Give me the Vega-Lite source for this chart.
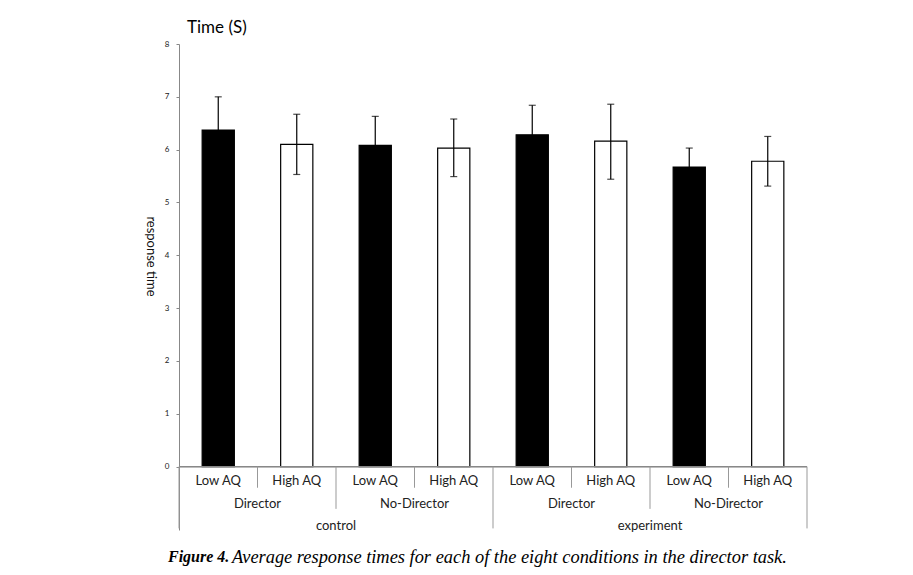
{
  "$schema": "https://vega.github.io/schema/vega-lite/v6.json",
  "background": "white",
  "padding": {"left": 143, "top": 19, "right": 5, "bottom": 5},
  "config": {"view": {"stroke": null}, "font": "Lato", "concat": {"spacing": 0}},
  "title": {"text": "Figure 4.", "orient": "bottom", "anchor": "start", "font": "Liberation Serif", "fontStyle": "italic", "fontWeight": "bold", "fontSize": 16, "color": "black", "offset": -16.8, "dx": 25},
  "vconcat": [
    {
      "title": {"text": "Average response times for each of the eight conditions in the director task.", "orient": "bottom", "anchor": "start", "font": "Liberation Serif", "fontStyle": "italic", "fontWeight": "normal", "fontSize": 18.4, "color": "black", "offset": 15, "dx": 89},
      "vconcat": [
        {
          "width": 628,
          "height": 486,
          "title": {"text": "Time (S)", "anchor": "start", "frame": "group", "dx": 8, "font": "Lato", "fontSize": 17, "fontWeight": "normal", "color": "black", "offset": 3},
          "data": {"values": [
            {"cond": "control|Director|Low AQ", "group": "control", "director": "Director", "aq": "Low AQ", "mean": 6.37, "lo": 5.74, "hi": 7.00},
            {"cond": "control|Director|High AQ", "group": "control", "director": "Director", "aq": "High AQ", "mean": 6.10, "lo": 5.53, "hi": 6.67},
            {"cond": "control|No-Director|Low AQ", "group": "control", "director": "No-Director", "aq": "Low AQ", "mean": 6.08, "lo": 5.53, "hi": 6.63},
            {"cond": "control|No-Director|High AQ", "group": "control", "director": "No-Director", "aq": "High AQ", "mean": 6.03, "lo": 5.49, "hi": 6.58},
            {"cond": "experiment|Director|Low AQ", "group": "experiment", "director": "Director", "aq": "Low AQ", "mean": 6.28, "lo": 5.72, "hi": 6.84},
            {"cond": "experiment|Director|High AQ", "group": "experiment", "director": "Director", "aq": "High AQ", "mean": 6.16, "lo": 5.44, "hi": 6.86},
            {"cond": "experiment|No-Director|Low AQ", "group": "experiment", "director": "No-Director", "aq": "Low AQ", "mean": 5.67, "lo": 5.31, "hi": 6.03},
            {"cond": "experiment|No-Director|High AQ", "group": "experiment", "director": "No-Director", "aq": "High AQ", "mean": 5.78, "lo": 5.31, "hi": 6.25}
          ]},
          "encoding": {
            "x": {"field": "cond", "type": "ordinal", "sort": null, "scale": {"paddingInner": 0, "paddingOuter": 0}, "axis": null}
          },
          "layer": [
            {
              "mark": {"type": "bar", "width": {"band": 0.41}, "stroke": "black", "strokeWidth": 1.2},
              "encoding": {
                "y": {"field": "mean", "type": "quantitative", "scale": {"domain": [-1.2, 8], "nice": false, "zero": false},
                  "axis": {"values": [0, 1, 2, 3, 4, 5, 6, 7, 8], "grid": false, "domainColor": "#888888", "tickColor": "#888888", "tickSize": 3, "labelFontSize": 8, "labelColor": "#222222", "labelPadding": 7, "title": "response time", "titleFontSize": 13, "titleFontWeight": "normal", "titleColor": "#111111", "titleAngle": 90, "titleY": 212, "titleX": -36}},
                "y2": {"datum": 0},
                "color": {"field": "aq", "type": "nominal", "scale": {"domain": ["Low AQ", "High AQ"], "range": ["black", "white"]}, "legend": null}
              }
            },
            {
              "mark": {"type": "rule", "color": "black", "strokeWidth": 1.2},
              "encoding": {"y": {"field": "lo", "type": "quantitative"}, "y2": {"field": "hi"}}
            },
            {
              "mark": {"type": "tick", "color": "black", "size": 7, "thickness": 1.2, "orient": "horizontal"},
              "encoding": {"y": {"field": "hi", "type": "quantitative"}}
            },
            {
              "mark": {"type": "tick", "color": "black", "size": 7, "thickness": 1.2, "orient": "horizontal"},
              "encoding": {"y": {"field": "lo", "type": "quantitative"}}
            },
            {
              "mark": {"type": "rule", "color": "#888888", "strokeWidth": 1},
              "encoding": {"y": {"datum": 0}, "x": null}
            },
            {
              "transform": [{"filter": "datum.aq == 'High AQ'"}],
              "mark": {"type": "rule", "color": "#999999", "strokeWidth": 1},
              "encoding": {"x": {"field": "cond", "type": "ordinal", "sort": null, "bandPosition": 0}, "y": {"datum": 0}, "y2": {"datum": -0.4}}
            },
            {
              "transform": [{"filter": "datum.aq == 'Low AQ' && datum.director == 'No-Director'"}],
              "mark": {"type": "rule", "color": "#999999", "strokeWidth": 1},
              "encoding": {"x": {"field": "cond", "type": "ordinal", "sort": null, "bandPosition": 0}, "y": {"datum": 0}, "y2": {"datum": -0.8}}
            },
            {
              "transform": [{"filter": "datum.aq == 'Low AQ' && datum.director == 'Director'"}],
              "mark": {"type": "rule", "color": "#999999", "strokeWidth": 1},
              "encoding": {"x": {"field": "cond", "type": "ordinal", "sort": null, "bandPosition": 0}, "y": {"datum": 0}, "y2": {"datum": -1.17}}
            },
            {
              "transform": [{"filter": "datum.aq == 'High AQ' && datum.director == 'No-Director' && datum.group == 'experiment'"}],
              "mark": {"type": "rule", "color": "#999999", "strokeWidth": 1},
              "encoding": {"x": {"field": "cond", "type": "ordinal", "sort": null, "bandPosition": 1}, "y": {"datum": 0}, "y2": {"datum": -1.17}}
            },
            {
              "mark": {"type": "text", "fontSize": 13, "color": "#222222", "baseline": "middle"},
              "encoding": {"y": {"datum": -0.27}, "text": {"field": "aq"}}
            },
            {
              "transform": [{"filter": "datum.aq == 'Low AQ'"}],
              "mark": {"type": "text", "fontSize": 13, "color": "#222222", "baseline": "middle"},
              "encoding": {"x": {"field": "cond", "type": "ordinal", "sort": null, "bandPosition": 1}, "y": {"datum": -0.7}, "text": {"field": "director"}}
            },
            {
              "transform": [{"filter": "datum.aq == 'High AQ' && datum.director == 'Director'"}],
              "mark": {"type": "text", "fontSize": 13, "color": "#222222", "baseline": "middle"},
              "encoding": {"x": {"field": "cond", "type": "ordinal", "sort": null, "bandPosition": 1}, "y": {"datum": -1.12}, "text": {"field": "group"}}
            }
          ]
        }
      ]
    }
  ]
}
